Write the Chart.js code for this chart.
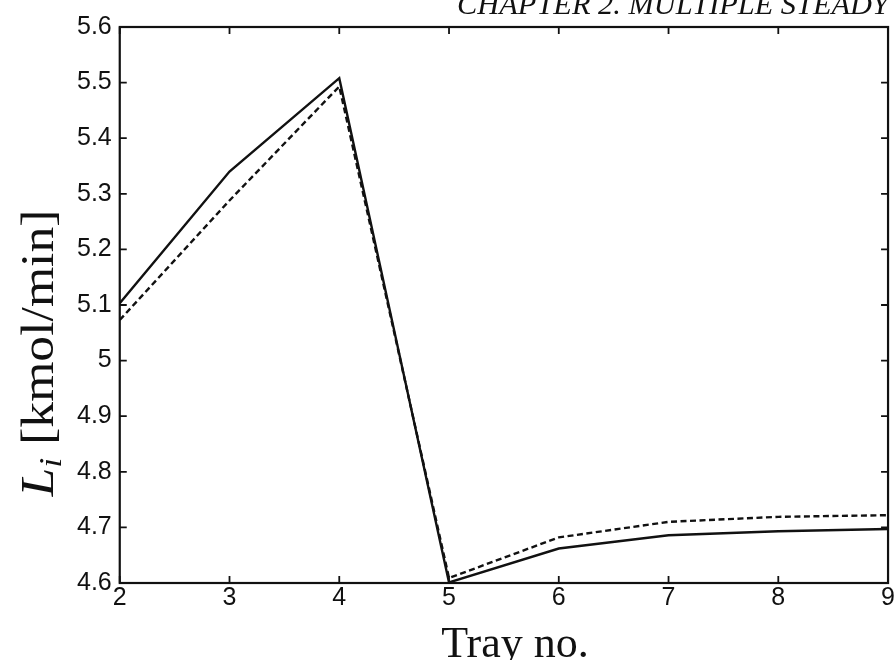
<!DOCTYPE html>
<html>
<head>
<meta charset="utf-8">
<script src="https://cdn.jsdelivr.net/npm/chart.js@4.4.1/dist/chart.umd.min.js"></script>
<style>
  html, body { margin: 0; padding: 0; background: #fff; overflow: hidden; }
  #wrap { position: relative; width: 895px; height: 660px; }
</style>
</head>
<body>
<div id="wrap"><canvas id="flowChart"></canvas></div>
<script>
// liquid flow per tray, two runs
const trays = [2, 3, 4, 5, 6, 7, 8, 9];
const flowSolid = [5.103, 5.340, 5.508, 4.601, 4.662, 4.686, 4.693, 4.697];
const flowDashed = [5.073, 5.288, 5.493, 4.609, 4.682, 4.710, 4.719, 4.722];

const xTitle = 'Tray no.';
const yTitleVar = 'L';
const yTitleSub = 'i';
const yTitleUnit = ' [kmol/min]';
const pageHeader = 'CHAPTER 2. MULTIPLE STEADY';

const toPoints = vals => vals.map((v, i) => ({ x: trays[i], y: v }));

// box round the plot, inward ticks on all four sides, and the serif titles
const framePlugin = {
  id: 'frame',
  afterDraw(chart) {
    const { ctx, chartArea: a, scales } = chart;
    const tick = 7;
    ctx.save();
    ctx.strokeStyle = '#111';
    ctx.lineWidth = 2.2;
    ctx.strokeRect(a.left, a.top, a.right - a.left, a.bottom - a.top);

    ctx.lineWidth = 1.8;
    ctx.beginPath();
    scales.x.ticks.forEach(t => {
      const px = scales.x.getPixelForValue(t.value);
      ctx.moveTo(px, a.bottom); ctx.lineTo(px, a.bottom - tick);
      ctx.moveTo(px, a.top); ctx.lineTo(px, a.top + tick);
    });
    scales.y.ticks.forEach(t => {
      const py = scales.y.getPixelForValue(t.value);
      ctx.moveTo(a.left, py); ctx.lineTo(a.left + tick, py);
      ctx.moveTo(a.right, py); ctx.lineTo(a.right - tick, py);
    });
    ctx.stroke();

    ctx.fillStyle = '#111';
    ctx.textBaseline = 'alphabetic';

    // x title
    ctx.font = '44px "Liberation Serif"';
    ctx.textAlign = 'center';
    ctx.fillText(xTitle, 515, 657);

    // y title, rotated, L with subscript i
    ctx.textAlign = 'left';
    const bigFont = 'italic 46px "Liberation Serif"';
    const subFont = 'italic 32px "Liberation Serif"';
    const unitFont = '46px "Liberation Serif"';
    ctx.font = bigFont;
    const wL = ctx.measureText(yTitleVar).width;
    ctx.font = subFont;
    const wi = ctx.measureText(yTitleSub).width;
    ctx.font = unitFont;
    const wU = ctx.measureText(yTitleUnit).width;
    const total = wL + wi + wU;
    const sx = 287 / total;
    ctx.save();
    ctx.translate(53, 353);
    ctx.rotate(-Math.PI / 2);
    ctx.scale(sx, 1);
    let cx = -total / 2;
    ctx.font = bigFont;
    ctx.fillText(yTitleVar, cx, 0);
    cx += wL;
    ctx.font = subFont;
    ctx.fillText(yTitleSub, cx, 8);
    cx += wi;
    ctx.font = unitFont;
    ctx.fillText(yTitleUnit, cx, 0);
    ctx.restore();

    // running header, cut off at the top edge
    ctx.font = 'italic 30px "Liberation Serif"';
    const wh = ctx.measureText(pageHeader).width;
    ctx.save();
    ctx.translate(889, 14);
    ctx.scale(432 / wh, 1);
    ctx.textAlign = 'right';
    ctx.fillText(pageHeader, 0, 0);
    ctx.restore();

    ctx.restore();
  }
};

const tickFont = { family: '"Liberation Sans"', size: 25 };

new Chart(document.getElementById('flowChart'), {
  type: 'line',
  data: {
    datasets: [
      {
        label: 'solid',
        data: toPoints(flowSolid),
        borderColor: '#111',
        borderWidth: 2.4,
        pointRadius: 0,
        tension: 0,
      },
      {
        label: 'dashed',
        data: toPoints(flowDashed),
        borderColor: '#111',
        borderWidth: 2.4,
        borderDash: [6, 3.5],
        pointRadius: 0,
        tension: 0,
      },
    ],
  },
  options: {
    responsive: true,
    maintainAspectRatio: false,
    animation: false,
    layout: { padding: { left: 69, right: 6, top: 27, bottom: 47 } },
    plugins: {
      legend: { display: false },
      tooltip: { enabled: false },
    },
    scales: {
      x: {
        type: 'linear',
        min: 2,
        max: 9,
        grid: { display: false, drawTicks: false },
        border: { display: false },
        ticks: { stepSize: 1, color: '#111', font: tickFont, padding: 0 },
      },
      y: {
        min: 4.6,
        max: 5.6,
        grid: { display: false, drawTicks: false },
        border: { display: false },
        ticks: {
          stepSize: 0.1,
          color: '#111',
          font: tickFont,
          padding: 8,
          callback: v => String(Number(v.toFixed(1))),
        },
      },
    },
  },
  plugins: [framePlugin],
});
</script>
</body>
</html>
